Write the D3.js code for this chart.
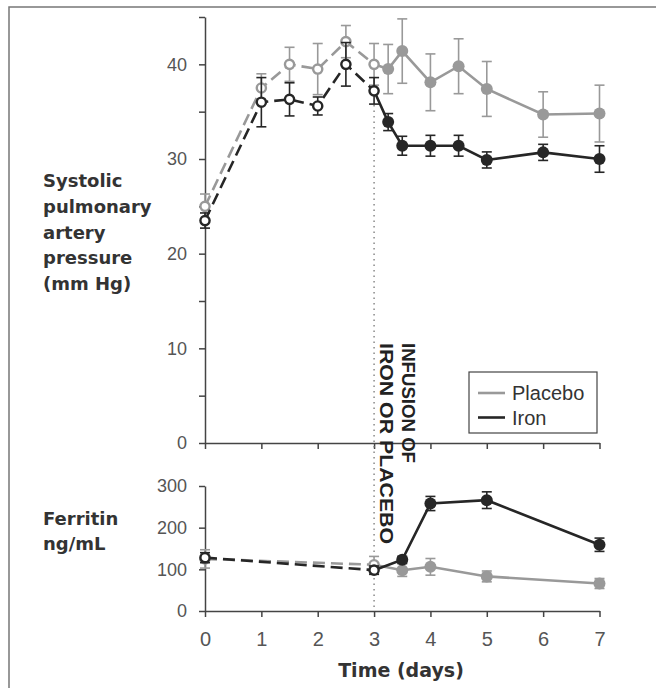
<!DOCTYPE html>
<html>
<head>
<meta charset="utf-8">
<script src="https://cdn.jsdelivr.net/npm/d3@7"></script>
<style>
  body { margin: 0; background: #fff; }
  .lbl { font-family: "DejaVu Sans", sans-serif; font-weight: bold; fill: #333; }
  .tick text { font-family: "Liberation Sans", Arial, sans-serif; fill: #555; }
</style>
</head>
<body>
<div id="chart"></div>
<script>
// data
var papDays = [0, 1, 1.5, 2, 2.5, 3, 3.25, 3.5, 4, 4.5, 5, 6, 7];
var papPlacebo = [25.0, 37.5, 40.0, 39.5, 42.4, 40.0, 39.5, 41.4, 38.1, 39.8, 37.4, 34.7, 34.8];
var papPlaceboErr = [1.3, 1.5, 1.8, 2.7, 1.7, 2.2, 2.6, 3.4, 3.0, 2.9, 2.9, 2.4, 3.0];
var papIron = [23.5, 36.0, 36.3, 35.6, 40.0, 37.2, 33.9, 31.4, 31.4, 31.4, 29.9, 30.7, 30.0];
var papIronErr = [0.8, 2.6, 1.75, 0.95, 2.3, 1.4, 0.9, 1.0, 1.1, 1.1, 0.85, 0.85, 1.4];

var ferDays = [0, 3, 3.5, 4, 5, 7];
var ferPlacebo = [125, 111, 98, 106, 83, 66];
var ferPlaceboErr = [22, 20, 15, 20, 13, 12];
var ferIron = [128, 98, 123, 258, 266, 159];
var ferIronErr = [12, 10, 8, 17, 20, 16];

var dayTicks = [0, 1, 2, 3, 4, 5, 6, 7];
var papTicks = [0, 5, 10, 15, 20, 25, 30, 35, 40, 45];
var ferTicks = [0, 100, 200, 300];
var infusionDay = 3;

var seriesNames = ["Placebo", "Iron"];
var seriesColors = {"Placebo": "#999", "Iron": "#262626"};

var svgWidth = 656, svgHeight = 688;

var svg = d3.select("#chart")
    .append("svg")
    .attr("width", svgWidth)
    .attr("height", svgHeight);

// frame
svg.append("rect")
    .attr("x", 9).attr("y", 7)
    .attr("width", 700).attr("height", 700)
    .attr("fill", "none")
    .attr("stroke", "#777")
    .attr("stroke-width", 1.5);

// scales
var xScale = d3.scaleLinear().domain([0, 7]).range([205, 599.5]);
var yTop = d3.scaleLinear().domain([0, 45]).range([443, 17]);
var yBot = d3.scaleLinear().domain([0, 300]).range([611, 486]);

function styleAxis(g, fs) {
    g.select(".domain").attr("stroke", "#444").attr("stroke-width", 1.5);
    g.selectAll(".tick line").attr("stroke", "#444").attr("stroke-width", 1.5);
    g.selectAll(".tick text").style("font-size", fs + "px");
}

// top panel axes
svg.append("g")
    .attr("transform", "translate(205,0)")
    .call(d3.axisLeft(yTop).tickValues(papTicks)
        .tickFormat(d => d % 10 === 0 ? d : "")
        .tickSize(6).tickSizeOuter(0).tickPadding(12))
    .call(g => styleAxis(g, 18));

svg.append("g")
    .attr("transform", "translate(0,443)")
    .call(d3.axisBottom(xScale).tickValues(dayTicks).tickFormat("")
        .tickSize(6).tickSizeOuter(0))
    .call(g => styleAxis(g, 18));

// bottom panel axes
svg.append("g")
    .attr("transform", "translate(205,0)")
    .call(d3.axisLeft(yBot).tickValues(ferTicks)
        .tickFormat(d3.format("d"))
        .tickSize(6).tickSizeOuter(0).tickPadding(12))
    .call(g => styleAxis(g, 18));

svg.append("g")
    .attr("transform", "translate(0,611)")
    .call(d3.axisBottom(xScale).tickValues(dayTicks)
        .tickFormat(d3.format("d"))
        .tickSize(6).tickSizeOuter(0).tickPadding(15))
    .call(g => styleAxis(g, 20));

// infusion marker
svg.append("line")
    .attr("x1", xScale(infusionDay)).attr("x2", xScale(infusionDay))
    .attr("y1", yTop(papIron[5] - papIronErr[5]) + 1)
    .attr("y2", yBot(0))
    .attr("stroke", "#777")
    .attr("stroke-width", 1.3)
    .attr("stroke-dasharray", "1.3,4.2");

var infText = svg.append("text")
    .attr("transform", "translate(402,343) rotate(90)")
    .style("font-family", "'Liberation Sans Narrow', 'Liberation Sans', Arial, sans-serif")
    .style("font-weight", "bold")
    .style("font-size", "18px")
    .attr("fill", "#222");
infText.append("tspan").attr("x", 0).attr("y", 0)
    .attr("textLength", 120).attr("lengthAdjust", "spacingAndGlyphs")
    .text("INFUSION OF");
infText.append("tspan").attr("x", 0).attr("y", 22)
    .attr("textLength", 201).attr("lengthAdjust", "spacingAndGlyphs")
    .text("IRON OR PLACEBO");

// draw one series in a panel
function drawSeries(days, vals, errs, yScale, name) {
    var color = seriesColors[name];
    var pts = days.map((d, i) => ({day: d, v: vals[i], e: errs[i]}));
    var g = svg.append("g").attr("class", "series-" + name);
    var line = d3.line().x(d => xScale(d.day)).y(d => yScale(d.v));

    g.append("path")
        .datum(pts.filter(d => d.day <= infusionDay))
        .attr("d", line)
        .attr("fill", "none")
        .attr("stroke", color)
        .attr("stroke-width", 2.6)
        .attr("stroke-dasharray", "12,6");

    g.append("path")
        .datum(pts.filter(d => d.day >= infusionDay))
        .attr("d", line)
        .attr("fill", "none")
        .attr("stroke", color)
        .attr("stroke-width", 2.6);

    var bars = g.selectAll(".err")
        .data(pts)
        .enter()
        .append("g")
        .attr("transform", d => `translate(${xScale(d.day)},0)`);

    bars.append("line")
        .attr("y1", d => yScale(d.v - d.e))
        .attr("y2", d => yScale(d.v + d.e))
        .attr("stroke", color).attr("stroke-width", 1.6);
    bars.append("line")
        .attr("x1", -5).attr("x2", 5)
        .attr("y1", d => yScale(d.v + d.e)).attr("y2", d => yScale(d.v + d.e))
        .attr("stroke", color).attr("stroke-width", 1.6);
    bars.append("line")
        .attr("x1", -5).attr("x2", 5)
        .attr("y1", d => yScale(d.v - d.e)).attr("y2", d => yScale(d.v - d.e))
        .attr("stroke", color).attr("stroke-width", 1.6);

    bars.append("circle")
        .attr("cy", d => yScale(d.v))
        .attr("r", d => d.day <= infusionDay ? 4.6 : 6)
        .attr("fill", d => d.day <= infusionDay ? "#fff" : color)
        .attr("stroke", color)
        .attr("stroke-width", d => d.day <= infusionDay ? 2.4 : 0);
}

drawSeries(papDays, papPlacebo, papPlaceboErr, yTop, "Placebo");
drawSeries(papDays, papIron, papIronErr, yTop, "Iron");
drawSeries(ferDays, ferPlacebo, ferPlaceboErr, yBot, "Placebo");
drawSeries(ferDays, ferIron, ferIronErr, yBot, "Iron");

// legend
var legend = svg.append("g").attr("transform", "translate(469,372)");
legend.append("rect")
    .attr("width", 128).attr("height", 61)
    .attr("fill", "#fff")
    .attr("stroke", "#444")
    .attr("stroke-width", 1.2);
var legendItems = legend.selectAll(".item")
    .data(seriesNames)
    .enter()
    .append("g")
    .attr("transform", (d, i) => `translate(0,${21 + i * 24.5})`);
legendItems.append("line")
    .attr("x1", 9).attr("x2", 36)
    .attr("stroke", d => seriesColors[d])
    .attr("stroke-width", 2.6);
legendItems.append("text")
    .attr("x", 43).attr("dy", "0.36em")
    .style("font-family", "'Liberation Sans', Arial, sans-serif")
    .style("font-size", "20px")
    .attr("fill", "#333")
    .text(d => d);

// panel labels
var papLabel = ["Systolic", "pulmonary", "artery", "pressure", "(mm Hg)"];
svg.append("text")
    .attr("class", "lbl")
    .style("font-size", "18px")
    .selectAll("tspan")
    .data(papLabel)
    .enter()
    .append("tspan")
    .attr("x", 43)
    .attr("y", (d, i) => 187 + i * 25.8)
    .text(d => d);

var ferLabel = ["Ferritin", "ng/mL"];
svg.append("text")
    .attr("class", "lbl")
    .style("font-size", "18px")
    .selectAll("tspan")
    .data(ferLabel)
    .enter()
    .append("tspan")
    .attr("x", 43)
    .attr("y", (d, i) => 525 + i * 25)
    .text(d => d);

// x axis title
svg.append("text")
    .attr("class", "lbl")
    .attr("x", 401)
    .attr("y", 677)
    .attr("text-anchor", "middle")
    .style("font-size", "19px")
    .text("Time (days)");
</script>
</body>
</html>
